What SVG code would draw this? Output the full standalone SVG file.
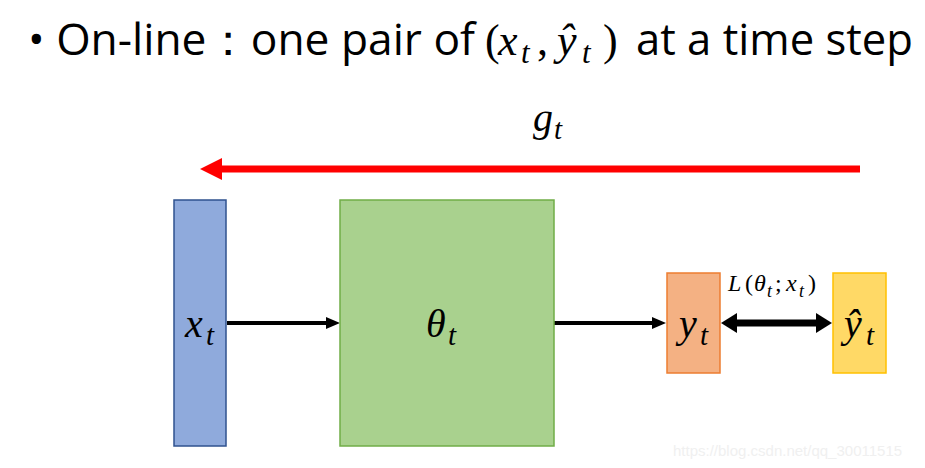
<svg xmlns="http://www.w3.org/2000/svg" width="925" height="468" viewBox="0 0 925 468">
<style>
.title{font-family:"Open Sans","Noto Sans","Liberation Sans",sans-serif;font-size:44px;fill:#000}
.m{font-family:"Liberation Serif","DejaVu Serif",serif;font-style:italic;fill:#000}
.n{font-style:normal}
.tbig{font-size:44px}
.tsub{font-size:31px}
.big{font-size:40px}
.sub{font-size:29px}
.small{font-size:24px}
.smsub{font-size:18px}
.wm{font-family:"Liberation Sans",Arial,sans-serif;font-size:15px;fill:#f0f0f0}
</style>
<rect width="925" height="468" fill="#fff"/>
<g id="title">
<text class="title" x="28" y="55" textLength="447" lengthAdjust="spacingAndGlyphs">• On-line：one pair of</text>
<text class="m tbig n" x="485" y="55">(</text>
<text class="m tbig" x="498" y="55">x</text>
<text class="m tsub" x="521" y="63">t</text>
<text class="m tbig n" x="537" y="55">,</text>
<text class="m tbig" x="557" y="55">ŷ</text>
<text class="m tsub" x="582" y="63">t</text>
<text class="m tbig n" x="603" y="55">)</text>
<text class="title" x="636" y="55" textLength="277" lengthAdjust="spacingAndGlyphs">at a time step</text>
</g>
<g id="connectors">
<line x1="860" y1="169" x2="220" y2="169" stroke="#ff0000" stroke-width="7"/>
<path d="M200,169 L222,158 L222,180 z" fill="#ff0000"/>
<line x1="227" y1="323" x2="328" y2="323" stroke="#000" stroke-width="4"/>
<path d="M340,323 L326,317 L326,329 z" fill="#000"/>
<line x1="554" y1="323" x2="654" y2="323" stroke="#000" stroke-width="4"/>
<path d="M666,323 L652,317 L652,329 z" fill="#000"/>
<line x1="734" y1="323" x2="818" y2="323" stroke="#000" stroke-width="7"/>
<path d="M721,323 L737,313 L737,333 z" fill="#000"/>
<path d="M832,323 L816,313 L816,333 z" fill="#000"/>
</g>
<g id="g_label">
<text class="m big" x="533" y="131">g</text>
<text class="m sub" x="554" y="139">t</text>
</g>
<g id="loss_label">
<text class="m small" x="728" y="291">L</text>
<text class="m small n" x="745" y="291">(</text>
<text class="m small" x="754" y="291">θ</text>
<text class="m smsub" x="767" y="297">t</text>
<text class="m small n" x="775" y="291">;</text>
<text class="m small" x="786" y="291">x</text>
<text class="m smsub" x="799" y="297">t</text>
<text class="m small n" x="808" y="291">)</text>
</g>
<g id="node_x">
<rect x="174" y="200" width="52" height="246" fill="#8faadc" stroke="#2f528f" stroke-width="1.5"/>
<text class="m big" x="185" y="337">x</text>
<text class="m sub" x="206" y="345">t</text>
</g>
<g id="node_theta">
<rect x="340" y="200" width="214" height="246" fill="#a9d18e" stroke="#70ad47" stroke-width="1.5"/>
<text class="m big" x="426" y="337">θ</text>
<text class="m sub" x="448" y="345">t</text>
</g>
<g id="node_y">
<rect x="667" y="273" width="53" height="100" fill="#f4b183" stroke="#ed7d31" stroke-width="1.5"/>
<text class="m big" x="679" y="337">y</text>
<text class="m sub" x="700" y="345">t</text>
</g>
<g id="node_yhat">
<rect x="833" y="273" width="53" height="100" fill="#ffd966" stroke="#ffc000" stroke-width="1.5"/>
<text class="m big" x="844" y="337">ŷ</text>
<text class="m sub" x="866" y="345">t</text>
</g>
<text class="wm" x="673" y="456">https://blog.csdn.net/qq_30011515</text>
</svg>
